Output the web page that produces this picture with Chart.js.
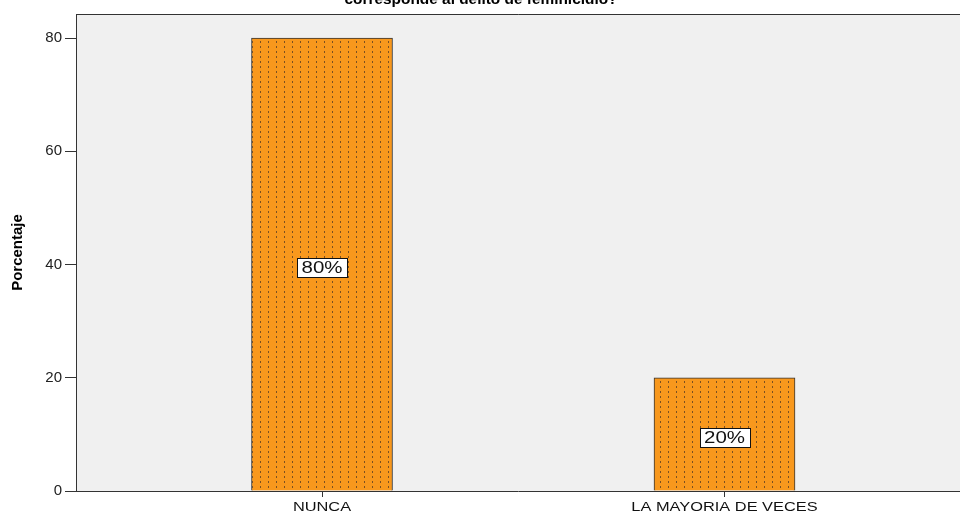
<!DOCTYPE html>
<html>
<head>
<meta charset="utf-8">
<script src="https://cdn.jsdelivr.net/npm/chart.js@4/dist/chart.umd.min.js"></script>
<style>
  html, body { margin: 0; padding: 0; background: #fff; }
  #wrap { width: 960px; height: 513px; }
</style>
</head>
<body>
<div id="wrap"><canvas id="chartPregunta"></canvas></div>
<script>
// datos del gráfico
const categorias = ['NUNCA', 'LA MAYORIA DE VECES'];
const porcentajes = [80, 20];
const etiquetas = ['80%', '20%'];
const posiciones = [0, 1];
const ticksY = [0, 20, 40, 60, 80];
const titulo = 'corresponde al delito de feminicidio?';

const FUENTE = '"Liberation Sans", Arial, sans-serif';

// relleno naranja con puntos (como el de SPSS)
function crearPatron() {
    const c = document.createElement('canvas');
    c.width = 8;
    c.height = 5;
    const cx = c.getContext('2d');
    cx.fillStyle = '#F8981D';
    cx.fillRect(0, 0, 8, 5);
    cx.fillStyle = 'rgba(90,62,35,0.8)';
    cx.fillRect(4, 1, 1, 2);
    return cx.createPattern(c, 'repeat');
}

// texto algo ensanchado, como en la salida original
function textoAncho(ctx, txt, x, y, esc) {
    ctx.save();
    ctx.translate(x, y);
    ctx.scale(esc, 1);
    ctx.fillText(txt, 0, 0);
    ctx.restore();
}

const fondoPlot = {
    id: 'fondoPlot',
    beforeDraw(chart) {
        const { ctx, chartArea: a } = chart;
        ctx.save();
        ctx.fillStyle = '#F0F0F0';
        ctx.fillRect(a.left, a.top, a.right - a.left, a.bottom - a.top);
        ctx.strokeStyle = '#333';
        ctx.lineWidth = 1;
        ctx.beginPath();
        ctx.moveTo(a.right, a.top + 0.5);
        ctx.lineTo(a.left + 0.5, a.top + 0.5);
        ctx.lineTo(a.left + 0.5, a.bottom);
        ctx.stroke();
        // titulo (cortado arriba)
        ctx.fillStyle = '#000';
        ctx.font = 'bold 14px ' + FUENTE;
        ctx.textAlign = 'center';
        ctx.textBaseline = 'alphabetic';
        textoAncho(ctx, titulo, 481, 4, 1.1);
        ctx.restore();
    },
    afterDraw(chart) {
        // etiquetas del eje x
        const { ctx } = chart;
        const xs = chart.scales.x;
        ctx.save();
        ctx.fillStyle = '#111';
        ctx.font = '13px ' + FUENTE;
        ctx.textAlign = 'center';
        ctx.textBaseline = 'top';
        xs.ticks.forEach((t) => {
            const i = posiciones.indexOf(t.value);
            if (i < 0) return;
            textoAncho(ctx, categorias[i], xs.getPixelForValue(t.value), xs.top + 10, 1.26);
        });
        ctx.restore();
    }
};

const etiquetasBarras = {
    id: 'etiquetasBarras',
    afterDatasetsDraw(chart) {
        const { ctx } = chart;
        const meta = chart.getDatasetMeta(0);
        ctx.save();
        ctx.font = '16px ' + FUENTE;
        ctx.textAlign = 'center';
        ctx.textBaseline = 'middle';
        meta.data.forEach((bar, i) => {
            const txt = etiquetas[i];
            const cy = Math.round((bar.y + bar.base) / 2) + 3;
            const w = 50;
            const h = 19;
            const x0 = Math.round(bar.x - w / 2) + 0.5;
            const y0 = Math.round(cy - h / 2) + 0.5;
            ctx.fillStyle = '#fff';
            ctx.fillRect(x0, y0, w, h);
            ctx.strokeStyle = '#111';
            ctx.lineWidth = 1;
            ctx.strokeRect(x0, y0, w, h);
            ctx.fillStyle = '#111';
            textoAncho(ctx, txt, bar.x, cy + 2, 1.28);
        });
        ctx.restore();
    }
};

const canvas = document.getElementById('chartPregunta');

new Chart(canvas, {
    type: 'bar',
    data: {
        datasets: [{
            label: 'Porcentaje',
            data: posiciones.map((x, i) => ({ x: x, y: porcentajes[i] })),
            backgroundColor: crearPatron(),
            borderColor: '#333',
            borderWidth: 1,
            barThickness: 141
        }]
    },
    options: {
        responsive: true,
        maintainAspectRatio: false,
        animation: false,
        layout: { padding: { top: 14, right: 0, left: 0, bottom: 0 } },
        plugins: {
            legend: { display: false },
            tooltip: { enabled: false }
        },
        scales: {
            x: {
                type: 'linear',
                offset: false,
                min: -0.6112,
                max: 1.5851,
                afterBuildTicks: (s) => { s.ticks = posiciones.map(v => ({ value: v })); },
                afterFit: (s) => { s.height = 22; },
                grid: { offset: false, drawOnChartArea: false, drawTicks: true, tickLength: 6, color: '#333' },
                border: { display: true, color: '#333' },
                ticks: { display: false }
            },
            y: {
                min: 0,
                max: 84.24,
                afterBuildTicks: (s) => { s.ticks = ticksY.map(v => ({ value: v })); },
                afterFit: (s) => { s.width = 76; },
                grid: { drawOnChartArea: false, drawTicks: true, tickLength: 11, color: '#333' },
                border: { display: true, color: '#333' },
                title: {
                    display: true,
                    text: 'Porcentaje',
                    color: '#000',
                    padding: { top: 9, bottom: 0 },
                    font: { family: FUENTE, size: 15, weight: 'bold' }
                },
                ticks: {
                    padding: 3,
                    color: '#222',
                    font: { family: FUENTE, size: 15 }
                }
            }
        }
    },
    plugins: [fondoPlot, etiquetasBarras]
});
</script>
</body>
</html>
